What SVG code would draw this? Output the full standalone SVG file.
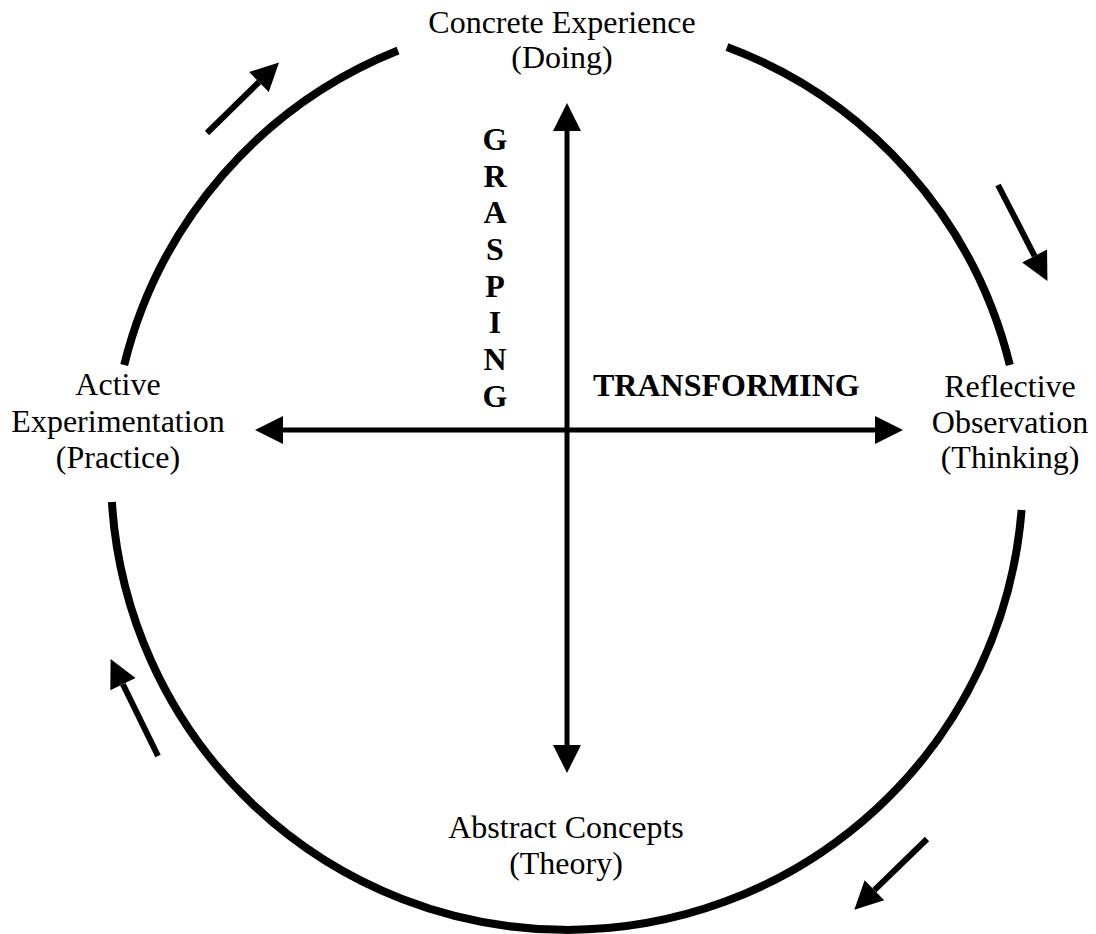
<svg xmlns="http://www.w3.org/2000/svg" width="1096" height="934" viewBox="0 0 1096 934">
  <style>
    .label { font-family: "Liberation Serif", "Times New Roman", serif; font-size: 32px; fill: #000; text-anchor: middle; }
    .axis-label { font-family: "Liberation Serif", "Times New Roman", serif; font-size: 32px; font-weight: bold; fill: #000; }
    .ring { fill: none; stroke: #000; stroke-width: 8; }
    .axis { stroke: #000; stroke-width: 5; fill: none; }
    .flow { stroke: #000; stroke-width: 6; fill: none; }
  </style>
  <defs>
    <marker id="head" markerUnits="userSpaceOnUse" markerWidth="28" markerHeight="28" refX="0" refY="14" orient="auto-start-reverse" overflow="visible">
      <path d="M0,0 L28,14 L0,28 z" fill="#000"/>
    </marker>
  </defs>
  <rect width="1096" height="934" fill="#fff"/>

  <!-- cycle ring (centre 567,474; r 456), broken where the stage labels sit -->
  <g id="ring">
    <path class="ring" d="M727,47 A456,456 0 0 1 1009.8,365"/>
    <path class="ring" d="M1021.6,510 A456,456 0 0 1 111.9,502"/>
    <path class="ring" d="M124.2,365 A456,456 0 0 1 398,50.5"/>
  </g>

  <!-- connectors: axes and direction-of-flow arrows -->
  <g id="connectors">
    <line class="axis" x1="567" y1="131" x2="567" y2="745" marker-start="url(#head)" marker-end="url(#head)"/>
    <line class="axis" x1="283" y1="430" x2="875" y2="430" marker-start="url(#head)" marker-end="url(#head)"/>
    <line class="flow" x1="207" y1="133" x2="259" y2="82" marker-end="url(#head)"/>
    <line class="flow" x1="998" y1="185" x2="1034.6" y2="256" marker-end="url(#head)"/>
    <line class="flow" x1="927" y1="839" x2="874.4" y2="890.2" marker-end="url(#head)"/>
    <line class="flow" x1="158" y1="756" x2="122.9" y2="684.2" marker-end="url(#head)"/>
  </g>

  <g id="concrete-experience">
    <text class="label" x="562" y="33">Concrete Experience</text>
    <text class="label" x="562" y="68">(Doing)</text>
  </g>
  <g id="reflective-observation">
    <text class="label" x="1010" y="397">Reflective</text>
    <text class="label" x="1010" y="433">Observation</text>
    <text class="label" x="1010" y="468">(Thinking)</text>
  </g>
  <g id="abstract-concepts">
    <text class="label" x="566" y="838">Abstract Concepts</text>
    <text class="label" x="566" y="874">(Theory)</text>
  </g>
  <g id="active-experimentation">
    <text class="label" x="118" y="395">Active</text>
    <text class="label" x="118" y="432">Experimentation</text>
    <text class="label" x="118" y="468">(Practice)</text>
  </g>

  <g id="grasping">
    <text class="axis-label" text-anchor="middle" x="495" y="150">G</text>
    <text class="axis-label" text-anchor="middle" x="495" y="187">R</text>
    <text class="axis-label" text-anchor="middle" x="495" y="223">A</text>
    <text class="axis-label" text-anchor="middle" x="495" y="260">S</text>
    <text class="axis-label" text-anchor="middle" x="495" y="297">P</text>
    <text class="axis-label" text-anchor="middle" x="495" y="333">I</text>
    <text class="axis-label" text-anchor="middle" x="495" y="370">N</text>
    <text class="axis-label" text-anchor="middle" x="495" y="407">G</text>
  </g>
  <g id="transforming">
    <text class="axis-label" x="593" y="396">TRANSFORMING</text>
  </g>
</svg>
